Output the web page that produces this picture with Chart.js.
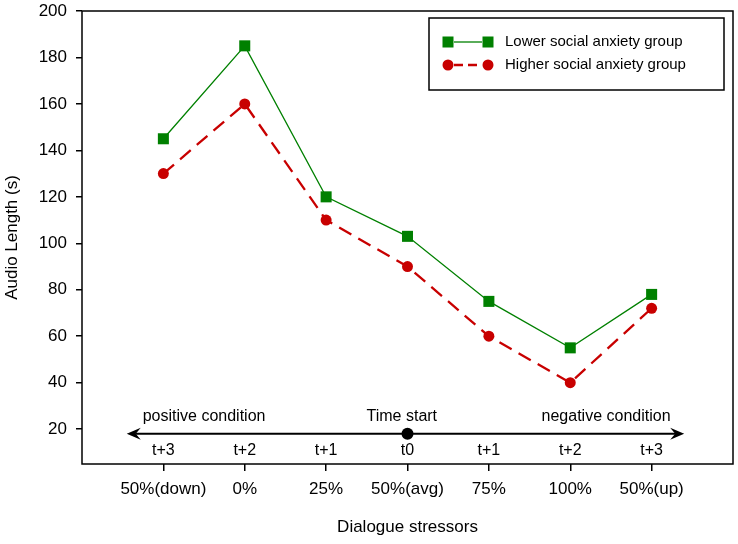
<!DOCTYPE html>
<html>
<head>
<meta charset="utf-8">
<script src="https://cdn.jsdelivr.net/npm/chart.js@4.4.1/dist/chart.umd.min.js"></script>
<style>
  html, body { margin: 0; padding: 0; background: #fff; }
</style>
</head>
<body>
<canvas id="audioChart" width="738" height="544"></canvas>
<script>
// Dialogue stressor levels along the x axis
const stressors = ["50%(down)", "0%", "25%", "50%(avg)", "75%", "100%", "50%(up)"];
// Time steps written under the arrow
const timeSteps = ["t+3", "t+2", "t+1", "t0", "t+1", "t+2", "t+3"];
// Mean audio length (s) per group
const lowerAnxiety = [145, 185, 120, 103, 75, 55, 78];
const higherAnxiety = [130, 160, 110, 90, 60, 40, 72];
// Y axis tick values
const yTicks = [20, 40, 60, 80, 100, 120, 140, 160, 180, 200];
// Time arrow, in axis units
const arrowFrom = -0.45;
const arrowTo = 6.4;
const arrowLevel = 18;
const timeStartAt = 3;
const noteTexts = ["positive condition", "Time start", "negative condition"];
const noteAt = [0.5, 2.93, 5.44];

const FONT = "Arial, 'Liberation Sans', sans-serif";
const GREEN = "#008000";
const RED = "#c80000";

// Draw one arrow head with its tip at (x, y); dir = 1 points left, -1 points right
function arrowHead(ctx, x, y, dir) {
  ctx.beginPath();
  ctx.moveTo(x, y);
  ctx.lineTo(x + dir * 14, y - 6);
  ctx.lineTo(x + dir * 9, y);
  ctx.lineTo(x + dir * 14, y + 6);
  ctx.closePath();
  ctx.fill();
}

// Plugin: frame, time arrow with its labels, and the legend box
const extras = {
  id: "extras",
  afterDatasetsDraw(chart) {
    const { ctx, chartArea: a, scales } = chart;
    const x = scales.x;
    const y = scales.y;
    ctx.save();

    // frame around the plot
    ctx.strokeStyle = "#000";
    ctx.lineWidth = 1.5;
    ctx.strokeRect(a.left, a.top, a.right - a.left, a.bottom - a.top);

    // time arrow
    const yPx = y.getPixelForValue(arrowLevel);
    const x0 = x.getPixelForValue(arrowFrom);
    const x1 = x.getPixelForValue(arrowTo);
    ctx.fillStyle = "#000";
    ctx.lineWidth = 2;
    ctx.beginPath();
    ctx.moveTo(x0 + 9, yPx);
    ctx.lineTo(x1 - 9, yPx);
    ctx.stroke();
    arrowHead(ctx, x0, yPx, 1);
    arrowHead(ctx, x1, yPx, -1);

    // time start dot
    ctx.beginPath();
    ctx.arc(x.getPixelForValue(timeStartAt), yPx, 6, 0, Math.PI * 2);
    ctx.fill();

    // texts around the arrow
    ctx.font = "16px " + FONT;
    ctx.textAlign = "center";
    ctx.textBaseline = "middle";
    for (let i = 0; i < timeSteps.length; i++) {
      ctx.fillText(timeSteps[i], x.getPixelForValue(i), yPx + 17);
    }
    for (let i = 0; i < noteTexts.length; i++) {
      ctx.fillText(noteTexts[i], x.getPixelForValue(noteAt[i]), yPx - 17);
    }

    // legend box
    const bx = a.right - 304;
    const by = a.top + 7;
    ctx.lineWidth = 1.5;
    ctx.strokeRect(bx, by, 295, 72);
    ctx.font = "15px " + FONT;
    ctx.textAlign = "left";
    const rows = chart.data.datasets;
    for (let i = 0; i < rows.length; i++) {
      const ds = rows[i];
      const ry = by + 24 + i * 23;
      const m0 = bx + 19;
      const m1 = bx + 59;
      ctx.strokeStyle = ds.borderColor;
      ctx.lineWidth = ds.borderWidth;
      ctx.setLineDash(ds.borderDash ? [9, 5] : []);
      ctx.beginPath();
      ctx.moveTo(m0 + 6, ry);
      ctx.lineTo(m1 - 6, ry);
      ctx.stroke();
      ctx.setLineDash([]);
      ctx.fillStyle = ds.pointBackgroundColor;
      if (ds.pointStyle === "rect") {
        ctx.fillRect(m0 - 5.5, ry - 5.5, 11, 11);
        ctx.fillRect(m1 - 5.5, ry - 5.5, 11, 11);
      } else {
        ctx.beginPath();
        ctx.arc(m0, ry, 5.5, 0, Math.PI * 2);
        ctx.arc(m1, ry, 5.5, 0, Math.PI * 2);
        ctx.fill();
      }
      ctx.fillStyle = "#000";
      ctx.fillText(ds.label, bx + 76, ry);
    }
    ctx.restore();
  },
};

const ctx = document.getElementById("audioChart").getContext("2d");

new Chart(ctx, {
  type: "line",
  data: {
    datasets: [
      {
        label: "Lower social anxiety group",
        data: lowerAnxiety.map((v, i) => ({ x: i, y: v })),
        borderColor: GREEN,
        backgroundColor: GREEN,
        pointBackgroundColor: GREEN,
        pointBorderColor: GREEN,
        borderWidth: 1.3,
        pointStyle: "rect",
        pointRadius: 7.8,
        pointBorderWidth: 0,
        tension: 0,
      },
      {
        label: "Higher social anxiety group",
        data: higherAnxiety.map((v, i) => ({ x: i, y: v })),
        borderColor: RED,
        backgroundColor: RED,
        pointBackgroundColor: RED,
        pointBorderColor: RED,
        borderWidth: 2.3,
        borderDash: [14, 8],
        pointStyle: "circle",
        pointRadius: 5.5,
        pointBorderWidth: 0,
        tension: 0,
      },
    ],
  },
  options: {
    responsive: false,
    animation: false,
    layout: { autoPadding: false, padding: { top: 11, right: 5, left: 0, bottom: 0 } },
    scales: {
      x: {
        type: "linear",
        min: -1,
        max: 7,
        afterBuildTicks: (scale) => {
          scale.ticks = stressors.map((_, i) => ({ value: i }));
        },
        afterFit: (scale) => {
          scale.height = 80;
          scale.paddingLeft = 0;
          scale.paddingRight = 0;
        },
        border: { display: false },
        grid: { drawOnChartArea: false, drawTicks: true, tickLength: 7, color: "#000", lineWidth: 1.5 },
        ticks: {
          autoSkip: false,
          maxRotation: 0,
          padding: 8,
          color: "#000",
          font: { size: 17, family: FONT },
          callback: (v) => stressors[v],
        },
        title: {
          display: true,
          text: "Dialogue stressors",
          color: "#000",
          font: { size: 17, family: FONT },
          padding: { top: 0, bottom: 6 },
        },
      },
      y: {
        min: 5,
        max: 200,
        afterBuildTicks: (scale) => {
          scale.ticks = yTicks.map((v) => ({ value: v }));
        },
        afterFit: (scale) => {
          scale.width = 82;
          scale.paddingTop = 0;
          scale.paddingBottom = 0;
        },
        border: { display: false },
        grid: { drawOnChartArea: false, drawTicks: true, tickLength: 6, color: "#000", lineWidth: 1.5 },
        ticks: {
          padding: 9,
          color: "#000",
          font: { size: 17, family: FONT },
        },
        title: {
          display: true,
          text: "Audio Length (s)",
          color: "#000",
          font: { size: 17, family: FONT },
          padding: { top: 2, bottom: 0 },
        },
      },
    },
    plugins: {
      legend: { display: false },
      tooltip: { enabled: false },
    },
  },
  plugins: [extras],
});
</script>
</body>
</html>
